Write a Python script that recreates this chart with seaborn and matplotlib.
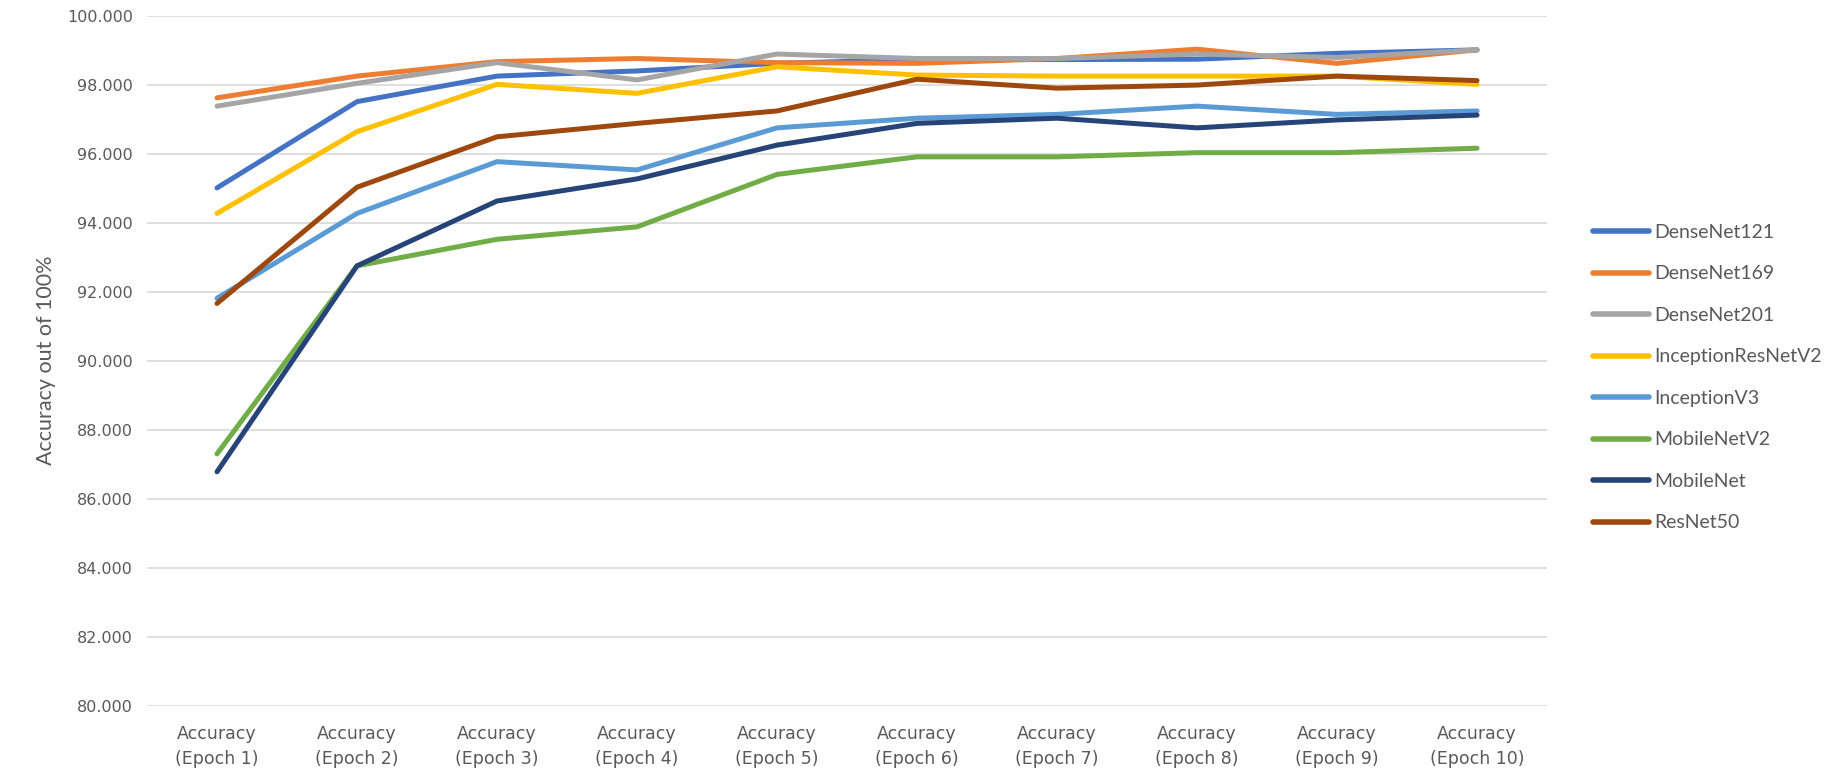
import pandas as pd
import matplotlib
matplotlib.use("Agg")
import matplotlib.pyplot as plt
import seaborn as sns

# epoch labels on the x axis
epochs = [f"Accuracy\n(Epoch {i})" for i in range(1, 11)]

# accuracy values, one list per model
densenet121 = [95.01, 97.51, 98.25, 98.40, 98.62, 98.73, 98.73, 98.74, 98.91, 99.01]
densenet169 = [97.62, 98.25, 98.67, 98.76, 98.64, 98.62, 98.76, 99.03, 98.62, 99.01]
densenet201 = [97.38, 98.04, 98.64, 98.14, 98.89, 98.76, 98.76, 98.89, 98.79, 99.01]
inceptionresnetv2 = [94.27, 96.64, 98.01, 97.75, 98.52, 98.28, 98.25, 98.25, 98.25, 98.01]
inceptionv3 = [91.81, 94.27, 95.77, 95.53, 96.75, 97.03, 97.14, 97.38, 97.14, 97.24]
mobilenetv2 = [87.30, 92.75, 93.52, 93.88, 95.40, 95.91, 95.91, 96.03, 96.03, 96.16]
mobilenet = [86.78, 92.75, 94.63, 95.27, 96.25, 96.88, 97.03, 96.75, 96.98, 97.12]
resnet50 = [91.66, 95.03, 96.49, 96.88, 97.24, 98.16, 97.90, 97.99, 98.25, 98.12]

models = ["DenseNet121", "DenseNet169", "DenseNet201", "InceptionResNetV2",
          "InceptionV3", "MobileNetV2", "MobileNet", "ResNet50"]
series = [densenet121, densenet169, densenet201, inceptionresnetv2,
          inceptionv3, mobilenetv2, mobilenet, resnet50]
colors = ["#4472C4", "#ED7D31", "#A5A5A5", "#FFC000",
          "#5B9BD5", "#70AD47", "#264478", "#9E480E"]

rows = []
for name, vals in zip(models, series):
    for i, v in enumerate(vals):
        rows.append({"epoch": i, "model": name, "acc": v})
df = pd.DataFrame(rows)

sns.set_style("white")
plt.rcParams["font.family"] = ["Lato", "DejaVu Sans"]

fig = plt.figure(figsize=(18.47, 7.79), dpi=100)
ax = fig.add_axes([0.0796, 0.0941, 0.758, 0.8857])

sns.lineplot(data=df, x="epoch", y="acc", hue="model", hue_order=models,
             palette=colors, linewidth=3.6, ax=ax, legend=False)
for ln in ax.lines:
    ln.set_solid_capstyle("round")
    ln.set_solid_joinstyle("round")

ax.set_xlim(-0.5, 9.5)
ax.set_ylim(80, 100)
ax.set_yticks(range(80, 101, 2))
ax.set_yticklabels([f"{v:.3f}" for v in range(80, 101, 2)],
                   fontsize=11.5, color="#595959", family="DejaVu Sans")
ax.set_xticks(range(10))
ax.set_xticklabels(epochs, fontsize=12.5, color="#595959", family="DejaVu Sans",
                   linespacing=1.5)
ax.tick_params(axis="both", length=0, pad=10)
ax.tick_params(axis="x", pad=14)
ax.grid(axis="y", color="#D9D9D9", linewidth=1.2)
ax.set_axisbelow(True)
for s in ax.spines.values():
    s.set_visible(False)
ax.set_xlabel("")
ax.set_ylabel("Accuracy out of 100%", fontsize=15.5, color="#595959", labelpad=8)

handles = [plt.Line2D([], [], color=c, linewidth=4, solid_capstyle="round")
           for c in colors]
fig.legend(handles, models, loc="upper left", bbox_to_anchor=(0.853, 0.735),
           frameon=False, fontsize=14, handlelength=2.9, handletextpad=0.25,
           labelspacing=1.26, labelcolor="#595959")

fig.savefig("out.png", dpi=100, facecolor="white")
